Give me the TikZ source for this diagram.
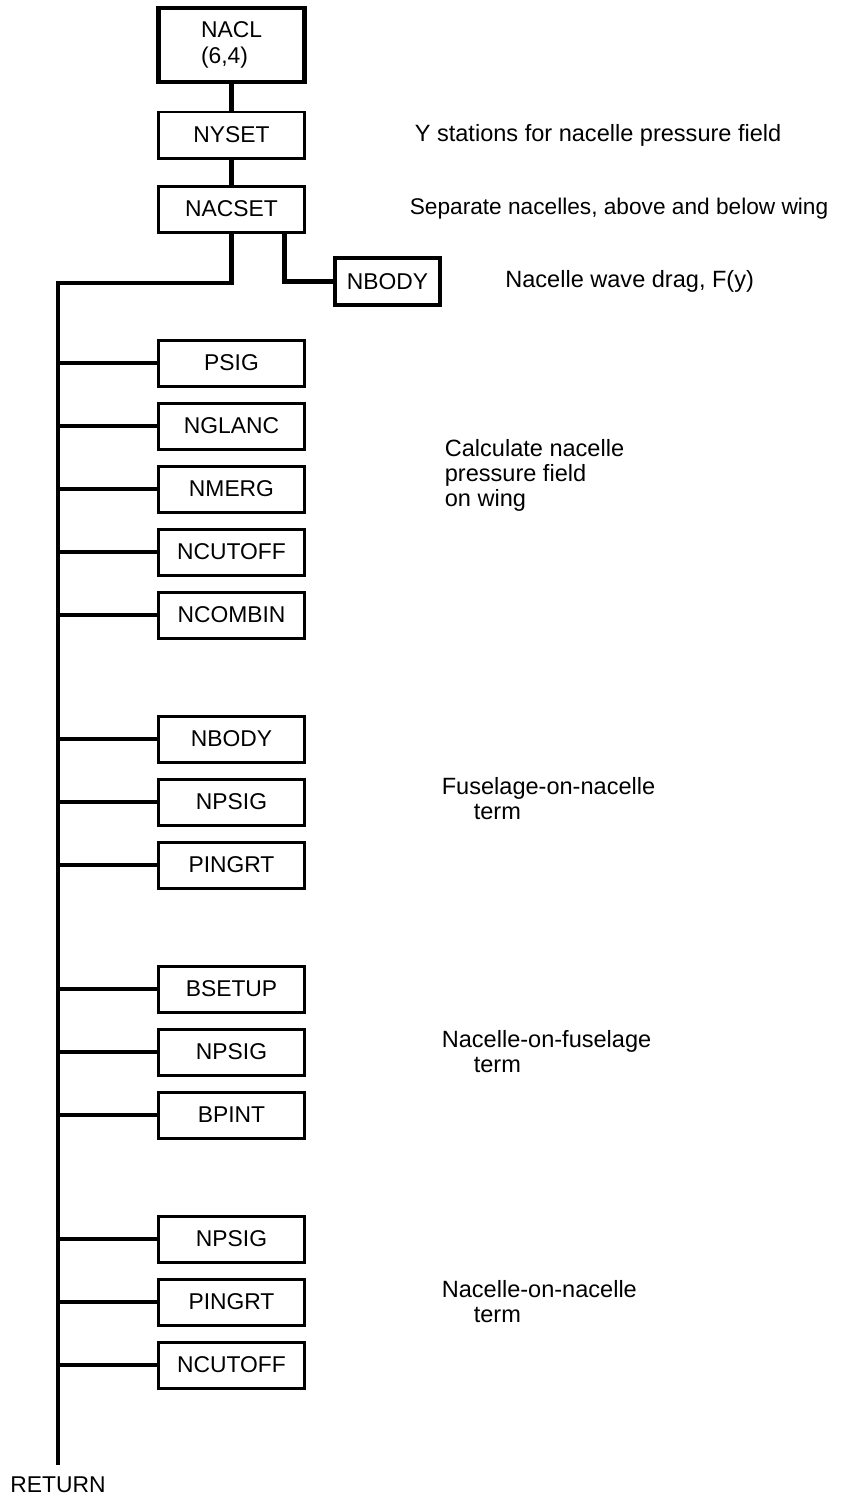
\documentclass[tikz,border=0pt]{standalone}
\usepackage{fontspec}
\setmainfont{Liberation Sans}
\usetikzlibrary{positioning}

\begin{document}
\begin{tikzpicture}[node distance=0.34cm,
  prog/.style={draw,line width=1.7pt,outer sep=0pt,minimum width=2.92cm,minimum height=0.92cm,inner sep=1pt,font=\fontsize{13}{15}\selectfont},
  note/.style={anchor=west,align=left,inner sep=0pt,font=\fontsize{13.4}{14.2}\selectfont},
  wire/.style={line width=1.8pt}]
  \useasboundingbox (0,0) rectangle (16.86,-30.04);
  \node[prog,line width=2.8pt,minimum height=1.48cm,align=left] (nacl) at (4.63,-0.9) {NACL\\(6,4)};
  \node[prog,below=0.6cm of nacl] (nyset) {NYSET};
  \node[prog,below=0.56cm of nyset] (nacset) {NACSET};
  \node[prog,minimum width=2.1cm,minimum height=0.94cm,line width=1.9pt] (nbody0) at (7.75,-5.63) {NBODY};
  \node[prog,below=2.16cm of nacset] (psig) {PSIG};
  \node[prog,below=of psig] (nglanc) {NGLANC};
  \node[prog,below=of nglanc] (nmerg) {NMERG};
  \node[prog,below=of nmerg] (ncutoff1) {NCUTOFF};
  \node[prog,below=of ncutoff1] (ncombin) {NCOMBIN};
  \node[prog,below=1.56cm of ncombin] (nbody1) {NBODY};
  \node[prog,below=of nbody1] (npsig1) {NPSIG};
  \node[prog,below=of npsig1] (pingrt1) {PINGRT};
  \node[prog,below=1.56cm of pingrt1] (bsetup) {BSETUP};
  \node[prog,below=of bsetup] (npsig2) {NPSIG};
  \node[prog,below=of npsig2] (bpint) {BPINT};
  \node[prog,below=1.56cm of bpint] (npsig3) {NPSIG};
  \node[prog,below=of npsig3] (pingrt2) {PINGRT};
  \node[prog,below=of pingrt2] (ncutoff2) {NCUTOFF};
  \coordinate (bustop) at (1.16,-5.66);
  \coordinate (busend) at (1.16,-29.3);
  \node[font=\fontsize{13}{15}\selectfont,below=0.12cm of busend] (ret) {RETURN};
  \node[note,right=2.2cm of nyset] (ysta) {Y stations for nacelle pressure field};
  \node[note,right=2.1cm of nacset,font=\fontsize{12.9}{14.2}\selectfont] (sepn) {Separate nacelles, above and below wing};
  \node[note,right=1.3cm of nbody0] (wave) {Nacelle wave drag, F(y)};
  \node[note,right=2.8cm of nmerg,yshift=0.28cm] (calc) {Calculate nacelle\\pressure field\\on wing};
  \node[note,right=2.74cm of npsig1,yshift=0.06cm] (fusn) {Fuselage-on-nacelle\\\hspace*{0.64cm}term};
  \node[note,right=2.74cm of npsig2] (nacf) {Nacelle-on-fuselage\\\hspace*{0.64cm}term};
  \node[note,right=2.74cm of pingrt2] (nacn) {Nacelle-on-nacelle\\\hspace*{0.64cm}term};
  \draw[wire,line width=2.6pt] (nacl) -- (nyset);
  \draw[wire,line width=2.6pt] (nyset) -- (nacset);
  \draw[wire,line width=2.3pt] (nacset.south) |- (bustop) -- (busend);
  \draw[wire,line width=2.3pt] ([xshift=-0.4cm]nacset.south east) |- (nbody0.west);
  \foreach \n in {psig,nglanc,nmerg,ncutoff1,ncombin,nbody1,npsig1,pingrt1,bsetup,npsig2,bpint,npsig3,pingrt2,ncutoff2}
    \draw[wire] (\n.west) -- (bustop |- \n.west);
\end{tikzpicture}
\end{document}
